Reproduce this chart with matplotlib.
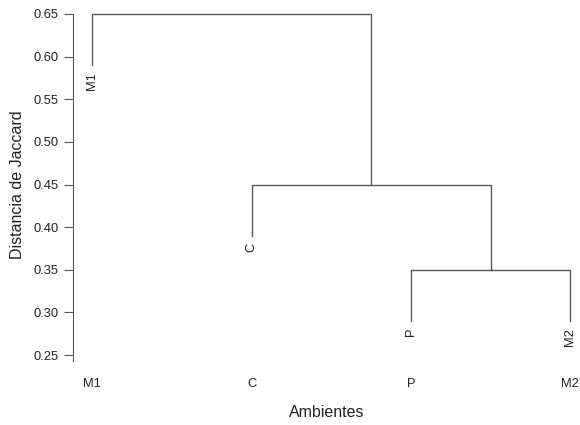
import matplotlib
matplotlib.use("Agg")
import matplotlib.pyplot as plt

plt.rcParams['font.family'] = ['Liberation Sans', 'DejaVu Sans']

labels = ["M1", "C", "P", "M2"]
merge_heights = [0.35, 0.45, 0.65]
hang = 0.06

fig = plt.figure(figsize=(5.8, 4.25), dpi=100)
W, H = 580, 425
ax = fig.add_axes([73 / W, 1 - 361 / H, 1 - 73 / W, (361 - 8) / H])

lc = "#555555"
tc = "#222222"
fs_tick = 9.3
fs_lab = 11.5

leaf_x = {lab: i + 1 for i, lab in enumerate(labels)}
h1 = merge_heights[0]
xP, xM2 = leaf_x["P"], leaf_x["M2"]
ax.plot([xP, xP, xM2, xM2], [h1 - hang, h1, h1, h1 - hang], color=lc, lw=1)
c1 = (xP + xM2) / 2
h2 = merge_heights[1]
xC = leaf_x["C"]
ax.plot([xC, xC, c1, c1], [h2 - hang, h2, h2, h1], color=lc, lw=1)
c2 = (xC + c1) / 2
h3 = merge_heights[2]
xM1 = leaf_x["M1"]
ax.plot([xM1, xM1, c2, c2], [h3 - hang, h3, h3, h2], color=lc, lw=1)

leaf_h = {"M1": h3, "C": h2, "P": h1, "M2": h1}
for lab in labels:
    ax.annotate(lab, (leaf_x[lab], leaf_h[lab] - hang), xytext=(0, -5),
                textcoords="offset points", rotation=90, ha="center", va="top",
                fontsize=fs_tick, color=tc)

ax.set_xlim(0.88, 4.06)
ax.set_ylim(0.243, 0.657)
ax.set_yticks([0.25, 0.30, 0.35, 0.40, 0.45, 0.50, 0.55, 0.60, 0.65])
ax.set_yticklabels([f"{v:.2f}" for v in ax.get_yticks()])
ax.set_xticks([1, 2, 3, 4])
ax.set_xticklabels(labels)
ax.tick_params(axis="x", length=0, pad=12, labelsize=fs_tick, labelcolor=tc)
ax.tick_params(axis="y", length=6.5, width=0.8, color=lc, pad=4, labelsize=fs_tick, labelcolor=tc)
for s in ["top", "right", "bottom"]:
    ax.spines[s].set_visible(False)
ax.spines["left"].set_color(lc)
ax.spines["left"].set_linewidth(0.8)
ax.spines["left"].set_bounds(0.243, 0.65)

ax.set_xlabel("Ambientes", fontsize=fs_lab, color=tc, labelpad=11)
ax.set_ylabel("Distancia de Jaccard", fontsize=fs_lab, color=tc, labelpad=6)

fig.savefig("out.png", dpi=100, facecolor="white")
